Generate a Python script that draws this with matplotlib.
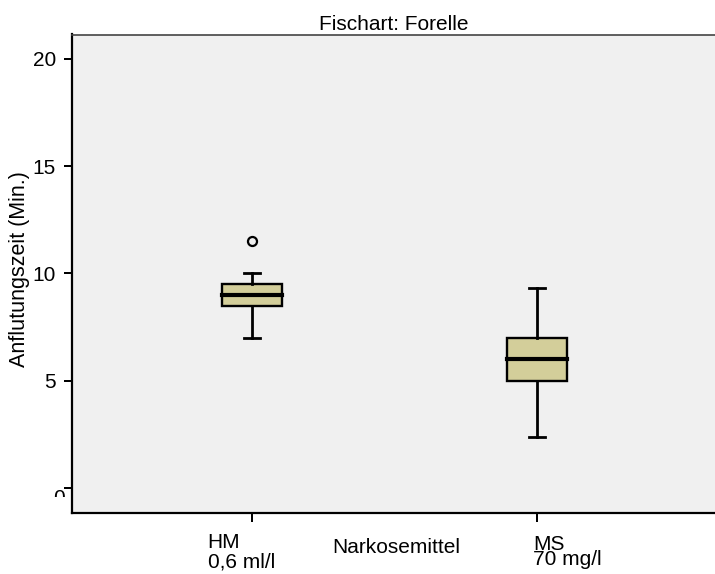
import matplotlib
matplotlib.use("Agg")
import matplotlib.pyplot as plt
from matplotlib.transforms import Bbox

# ---- data ----
groups = ["HM\n0,6 ml/l", "MS\n70 mg/l"]
q1 = [8.5, 5.0]
median = [9.0, 6.0]
q3 = [9.5, 7.0]
whisker_low = [7.0, 2.4]
whisker_high = [10.0, 9.33]
outliers = [[11.5], []]
yticks = [0, 5, 10, 15, 20]

title = "Fischart: Forelle"
xlabel = "Narkosemittel"
ylabel = "Anflutungszeit (Min.)"

plt.rcParams["font.family"] = ["Liberation Sans", "DejaVu Sans"]
FS = 15

fig = plt.figure(figsize=(7.15, 5.74), dpi=100)
ax = fig.add_axes([72 / 715, 1 - 513 / 574, 1 - 72 / 715, (513 - 34.5) / 574])
ax.set_facecolor("#F0F0F0")

stats = []
for i in range(len(groups)):
    stats.append(dict(q1=q1[i], med=median[i], q3=q3[i],
                      whislo=whisker_low[i], whishi=whisker_high[i],
                      fliers=outliers[i]))

positions = list(range(len(groups)))
ax.bxp(stats, positions=positions, widths=0.21, capwidths=0.056,
       patch_artist=True, showfliers=True,
       boxprops=dict(facecolor="#D3CE9A", edgecolor="black", linewidth=1.7),
       medianprops=dict(color="black", linewidth=3.0, solid_capstyle="projecting"),
       whiskerprops=dict(color="black", linewidth=2.0),
       capprops=dict(color="black", linewidth=2.0),
       flierprops=dict(marker="o", markerfacecolor="none", markeredgecolor="black",
                       markersize=6.5, markeredgewidth=1.6))

ax.set_xlim(-0.629, 1.622)
ax.set_ylim(-1.166, 21.14)

# y axis
ax.set_yticks(yticks)
ax.set_yticklabels([""] + [str(v) for v in yticks[1:]])
ax.tick_params(axis="y", length=5.8, width=1.44, pad=5.8, labelsize=FS, direction="out")
zero = ax.annotate(str(yticks[0]), xy=(0, yticks[0]), xycoords=("axes fraction", "data"),
                   xytext=(-19, -1), textcoords="offset pixels",
                   ha="left", va="top", fontsize=FS)
zero.set_clip_box(Bbox.from_extents(0, 574 - 497, 715, 574))
zero.set_clip_on(True)

# x axis
ax.set_xticks(positions)
ax.set_xticklabels(["", ""])
ax.tick_params(axis="x", length=6.5, width=1.44, direction="out")
offsets = [(-44, -20, 1.0), (-4, -22, 0.75)]
for i, lab in enumerate(groups):
    dx, dy, ls = offsets[i]
    ax.annotate(lab, xy=(positions[i], 0), xycoords=("data", "axes fraction"),
                xytext=(dx, dy), textcoords="offset pixels",
                ha="left", va="top", fontsize=FS, linespacing=ls,
                annotation_clip=False)

ax.set_xlabel(xlabel, fontsize=FS, va="top")
ax.xaxis.set_label_coords(0.505, -0.052)
ax.set_ylabel(ylabel, fontsize=15.5)
ax.yaxis.set_label_coords(-0.065, 0.51)

ax.set_title(title, fontsize=FS, pad=2.5)

for s in ["left", "bottom"]:
    ax.spines[s].set_linewidth(1.6)
    ax.spines[s].set_color("black")
ax.spines["top"].set_linewidth(1.2)
ax.spines["top"].set_color("#444444")
ax.spines["right"].set_visible(False)

fig.savefig("out.png", dpi=100)
